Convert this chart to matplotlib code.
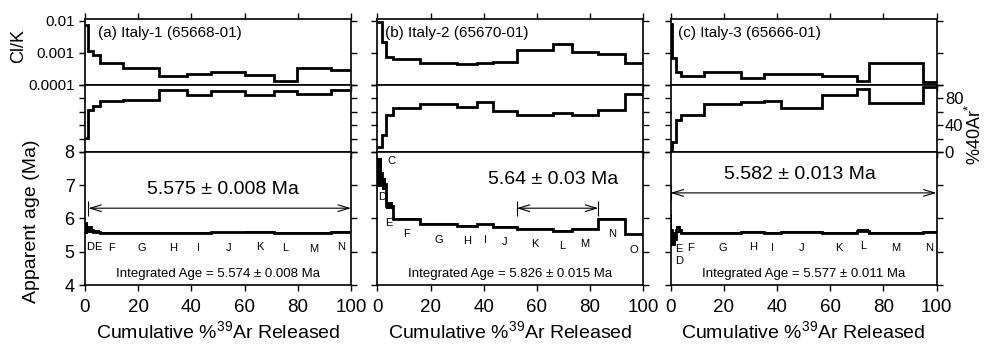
import matplotlib
matplotlib.use('Agg')
import matplotlib.pyplot as plt
from matplotlib.ticker import NullLocator
import numpy as np

plt.rcParams['font.family'] = 'Liberation Sans'
plt.rcParams['mathtext.fontset'] = 'custom'
plt.rcParams['mathtext.rm'] = 'Liberation Sans'
plt.rcParams['mathtext.it'] = 'Liberation Sans:italic'

# ---- data ----
# (a) Italy-1 (65668-01)
a_edges = [0, 1.25, 2.9, 5.6, 14.4, 28, 38.3, 47.4, 60.2, 71.1, 79.7, 92.6, 100]
a_clk = [0.0073, 0.00117, 0.00086, 0.00047, 0.00033, 0.000195, 0.00022, 0.00025, 0.0002, 0.00013, 0.00035, 0.00029]
a_rad = [21, 62, 68, 76, 78, 92.5, 85, 91.5, 85, 91.5, 86.6, 92.5]
a_age = [5.70, 5.66, 5.60, 5.57, 5.575, 5.57, 5.575, 5.58, 5.60, 5.575, 5.565, 5.60]
a_err = [0.18, 0.10, 0.05, 0.015, 0.015, 0.015, 0.015, 0.015, 0.02, 0.015, 0.015, 0.02]
a_steps = ['', 'D', 'E', 'F', 'G', 'H', 'I', 'J', 'K', 'L', 'M', 'N']

# (b) Italy-2 (65670-01)
b_edges = [0, 1.6, 3.3, 6, 16, 30, 37.6, 43.6, 52.4, 66.2, 73.1, 83.1, 93.1, 100]
b_clk = [0.009, 0.0021, 0.00076, 0.00063, 0.00047, 0.00045, 0.00047, 0.00053, 0.00123, 0.0019, 0.00104, 0.00092, 0.00049]
b_rad = [8, 25, 55, 66, 72, 66.7, 75, 61, 55, 57.7, 55, 62.7, 86.6]
b_age = [7.38, 7.03, 6.39, 5.99, 5.83, 5.78, 5.82, 5.75, 5.69, 5.63, 5.69, 5.99, 5.52]
b_err = [0.43, 0.18, 0.11, 0.02, 0.03, 0.03, 0.02, 0.03, 0.02, 0.03, 0.02, 0.02, 0.02]
b_steps = ['C', 'D', 'E', 'F', 'G', 'H', 'I', 'J', 'K', 'L', 'M', 'N', 'O']

# (c) Italy-3 (65666-01)
c_edges = [0, 0.7, 2.2, 4.0, 12.5, 26.5, 35.25, 41.5, 56.9, 70, 74.6, 94.75, 100]
c_clk = [0.008, 0.00068, 0.00026, 0.00019, 0.00026, 0.00017, 0.00022, 0.00022, 0.000195, 0.000133, 0.00047, 0.000126]
c_rad = [3, 15, 48, 55, 71.6, 75, 76, 65, 85, 93.5, 72.6, 97]
c_age = [5.65, 5.38, 5.66, 5.575, 5.575, 5.60, 5.575, 5.595, 5.57, 5.63, 5.57, 5.59]
c_err = [0.5, 0.22, 0.11, 0.015, 0.015, 0.02, 0.015, 0.015, 0.015, 0.04, 0.015, 0.02]
c_steps = ['', 'D', 'E', 'F', 'G', 'H', 'I', 'J', 'K', 'L', 'M', 'N']

titles = ['(a) Italy-1 (65668-01)', '(b) Italy-2 (65670-01)', '(c) Italy-3 (65666-01)']
plateaus = [(1.25, 100), (52.4, 83.1), (0, 100)]
plateau_text = ['5.575 ± 0.008 Ma', '5.64 ± 0.03 Ma', '5.582 ± 0.013 Ma']
integrated = ['Integrated Age = 5.574 ± 0.008 Ma',
              'Integrated Age = 5.826 ± 0.015 Ma',
              'Integrated Age = 5.577 ± 0.011 Ma']

# ---- layout / annotation placement ----
W, H = 986, 347
col_left = [85, 377.3, 670.5]
col_w = 266
title_x = [0.049, 0.029, 0.028]
arrow_y = [6.31, 6.31, 6.77]
ptext_xy = [(51.7, 6.88), (66.2, 7.16), (48.75, 7.31)]
# letters that are not simply under their step
letter_pos = [
    {'D': (1.9, 5.15), 'E': (5.0, 5.15)},
    {'C': (5.4, 7.73), 'D': (2.0, 6.66), 'E': (4.4, 5.86)},
    {'D': (3.3, 4.72), 'E': (3.3, 5.08), 'F': (7.5, 5.1)},
]


def fpos(y0, y1, x0):
    return [x0 / W, 1 - y1 / H, col_w / W, (y1 - y0) / H]


fig = plt.figure(figsize=(W / 100, H / 100), dpi=100)

panels = [
    (a_edges, a_clk, a_rad, a_age, a_err, a_steps),
    (b_edges, b_clk, b_rad, b_age, b_err, b_steps),
    (c_edges, c_clk, c_rad, c_age, c_err, c_steps),
]

tk = dict(direction='out', length=4, width=1.0)
for i, (edges, clk, rad, age, err, steps) in enumerate(panels):
    x0 = col_left[i]
    ax1 = fig.add_axes(fpos(18.5, 85, x0))
    ax2 = fig.add_axes(fpos(85, 152, x0))
    ax3 = fig.add_axes(fpos(152, 285, x0))
    edges = np.array(edges)
    centers = (edges[:-1] + edges[1:]) / 2
    widths = np.diff(edges)

    # Cl/K
    ax1.stairs(clk, edges, baseline=None, color='k', lw=2)
    ax1.set_yscale('log')
    ax1.set_ylim(1e-4, 1.17e-2)
    ax1.set_yticks([1e-4, 1e-3, 1e-2])
    ax1.yaxis.set_minor_locator(NullLocator())
    if i == 0:
        ax1.set_yticklabels(['0.0001', '0.001', '0.01'], fontsize=11)
    else:
        ax1.set_yticklabels([])
    ax1.tick_params(axis='x', top=True, bottom=True, labelbottom=False, **tk)
    ax1.tick_params(axis='y', left=True, right=True, **tk)
    ax1.text(title_x[i], 0.78, titles[i], transform=ax1.transAxes, fontsize=11, va='center')

    # % radiogenic
    ax2.stairs(rad, edges, baseline=None, color='k', lw=2)
    ax2.set_ylim(0, 100)
    ax2.set_yticks(np.arange(0, 101, 20))
    if i == 2:
        ax2.set_yticklabels(['0', '', '40', '', '80', ''], fontsize=12)
        ax2.tick_params(axis='y', left=True, right=True, labelleft=False, labelright=True, pad=2, **tk)
    else:
        ax2.set_yticklabels([])
        ax2.tick_params(axis='y', left=True, right=True, **tk)
    ax2.tick_params(axis='x', top=False, bottom=True, labelbottom=False, **tk)

    # age spectrum
    ax3.bar(centers, 2 * np.array(err), width=widths, bottom=np.array(age) - np.array(err),
            color='k', linewidth=0)
    ax3.stairs(age, edges, baseline=None, color='k', lw=2)
    ax3.set_ylim(4, 8)
    ax3.set_yticks([4, 5, 6, 7, 8])
    if i == 0:
        ax3.set_yticklabels(['4', '5', '6', '7', '8'], fontsize=13)
    else:
        ax3.set_yticklabels([])
    ax3.tick_params(axis='y', left=True, right=True, **tk)
    ax3.tick_params(axis='x', top=False, bottom=True, pad=6, labelsize=13.5, **tk)
    ax3.set_xlabel('Cumulative %$^{39}$Ar Released', fontsize=14, labelpad=3)

    for j, s in enumerate(steps):
        if not s:
            continue
        xy = letter_pos[i].get(s, (centers[j], age[j] - 0.47))
        ax3.text(xy[0], xy[1], s, fontsize=8, ha='center', va='center')

    p0, p1 = plateaus[i]
    ax3.annotate('', xy=(p1, arrow_y[i]), xytext=(p0, arrow_y[i]),
                 arrowprops=dict(arrowstyle='<->,head_length=0.5,head_width=0.15',
                                 mutation_scale=16, lw=0.8, color='k',
                                 shrinkA=0, shrinkB=0))
    ax3.vlines([p0, p1], arrow_y[i] - 0.22, arrow_y[i] + 0.22, color='k', lw=0.8)
    ax3.text(ptext_xy[i][0], ptext_xy[i][1], plateau_text[i], fontsize=14, ha='center', va='center')
    ax3.text(50, 4.33, integrated[i], fontsize=9.5, ha='center', va='center')

    for ax in (ax1, ax2, ax3):
        ax.set_xlim(0, 100)
        ax.set_xticks(np.arange(0, 101, 20))
        for sp in ax.spines.values():
            sp.set_linewidth(1.2)

fig.text(19 / W, 1 - 46 / H, 'Cl/K', rotation=90, fontsize=13, ha='center', va='center')
fig.text(32 / W, 1 - 221 / H, 'Apparent age (Ma)', rotation=90, fontsize=14, ha='center', va='center')
fig.text(975 / W, 1 - 135 / H, '%40Ar$^{*}$', rotation=90, fontsize=13, ha='center', va='center')

fig.savefig('out.png', dpi=100)
